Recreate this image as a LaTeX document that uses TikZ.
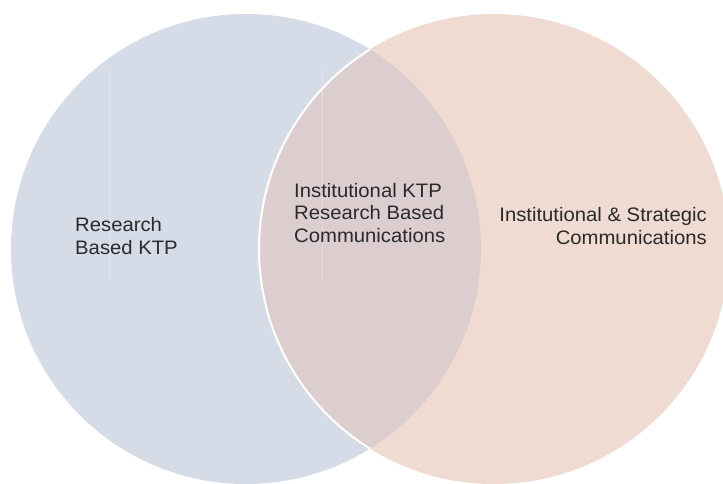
\documentclass[tikz,border=0pt]{standalone}
\usepackage{fontspec}
\newfontfamily\vennfont[FakeStretch=1.04]{Liberation Sans}
\definecolor{leftfill}{HTML}{D5DCE8}
\definecolor{rightfill}{HTML}{EFDBD1}
\definecolor{midfill}{HTML}{DCCECE}
\definecolor{txt}{HTML}{2A2A2A}
\tikzset{
  setA/.style={fill=leftfill},
  setB/.style={fill=rightfill},
  lbl/.style={font=\vennfont\fontsize{19.5pt}{23pt}\selectfont, text=txt, inner sep=0pt},
  artifact/.style={white, opacity=0.3, line width=0.6pt}
}
\begin{document}
\begin{tikzpicture}[x=1pt,y=1pt]
\useasboundingbox (0,0) rectangle (723,-483);
\fill[white] (0,0) rectangle (723,-483);
\coordinate (cA) at (246,-249);
\coordinate (cB) at (494,-249);
\path[setA] (cA) circle (235);
\path[setB] (cB) circle (235);
\begin{scope}
  \clip (cA) circle (235);
  \path[fill=midfill] (cB) circle (235);
  \draw[white, line width=2pt] (cB) circle (235);
\end{scope}
\coordinate (a1) at (109,-68);
\coordinate (a2) at (109,-280);
\coordinate (b1) at (322,-68);
\coordinate (b2) at (322,-280);
\draw[artifact] (a1) -- (a2);
\draw[artifact] (b1) -- (b2);
\node[lbl, align=left, anchor=base west] (lA) at (75,-254) {Research\\Based KTP};
\node[lbl, align=left, anchor=base west, font=\vennfont\fontsize{19.5pt}{22.5pt}\selectfont] (lAB) at (294,-242) {Institutional KTP\\Research Based\\Communications};
\node[lbl, align=right, anchor=base east] (lB) at (707,-244) {Institutional \& Strategic\\Communications};
\end{tikzpicture}
\end{document}
